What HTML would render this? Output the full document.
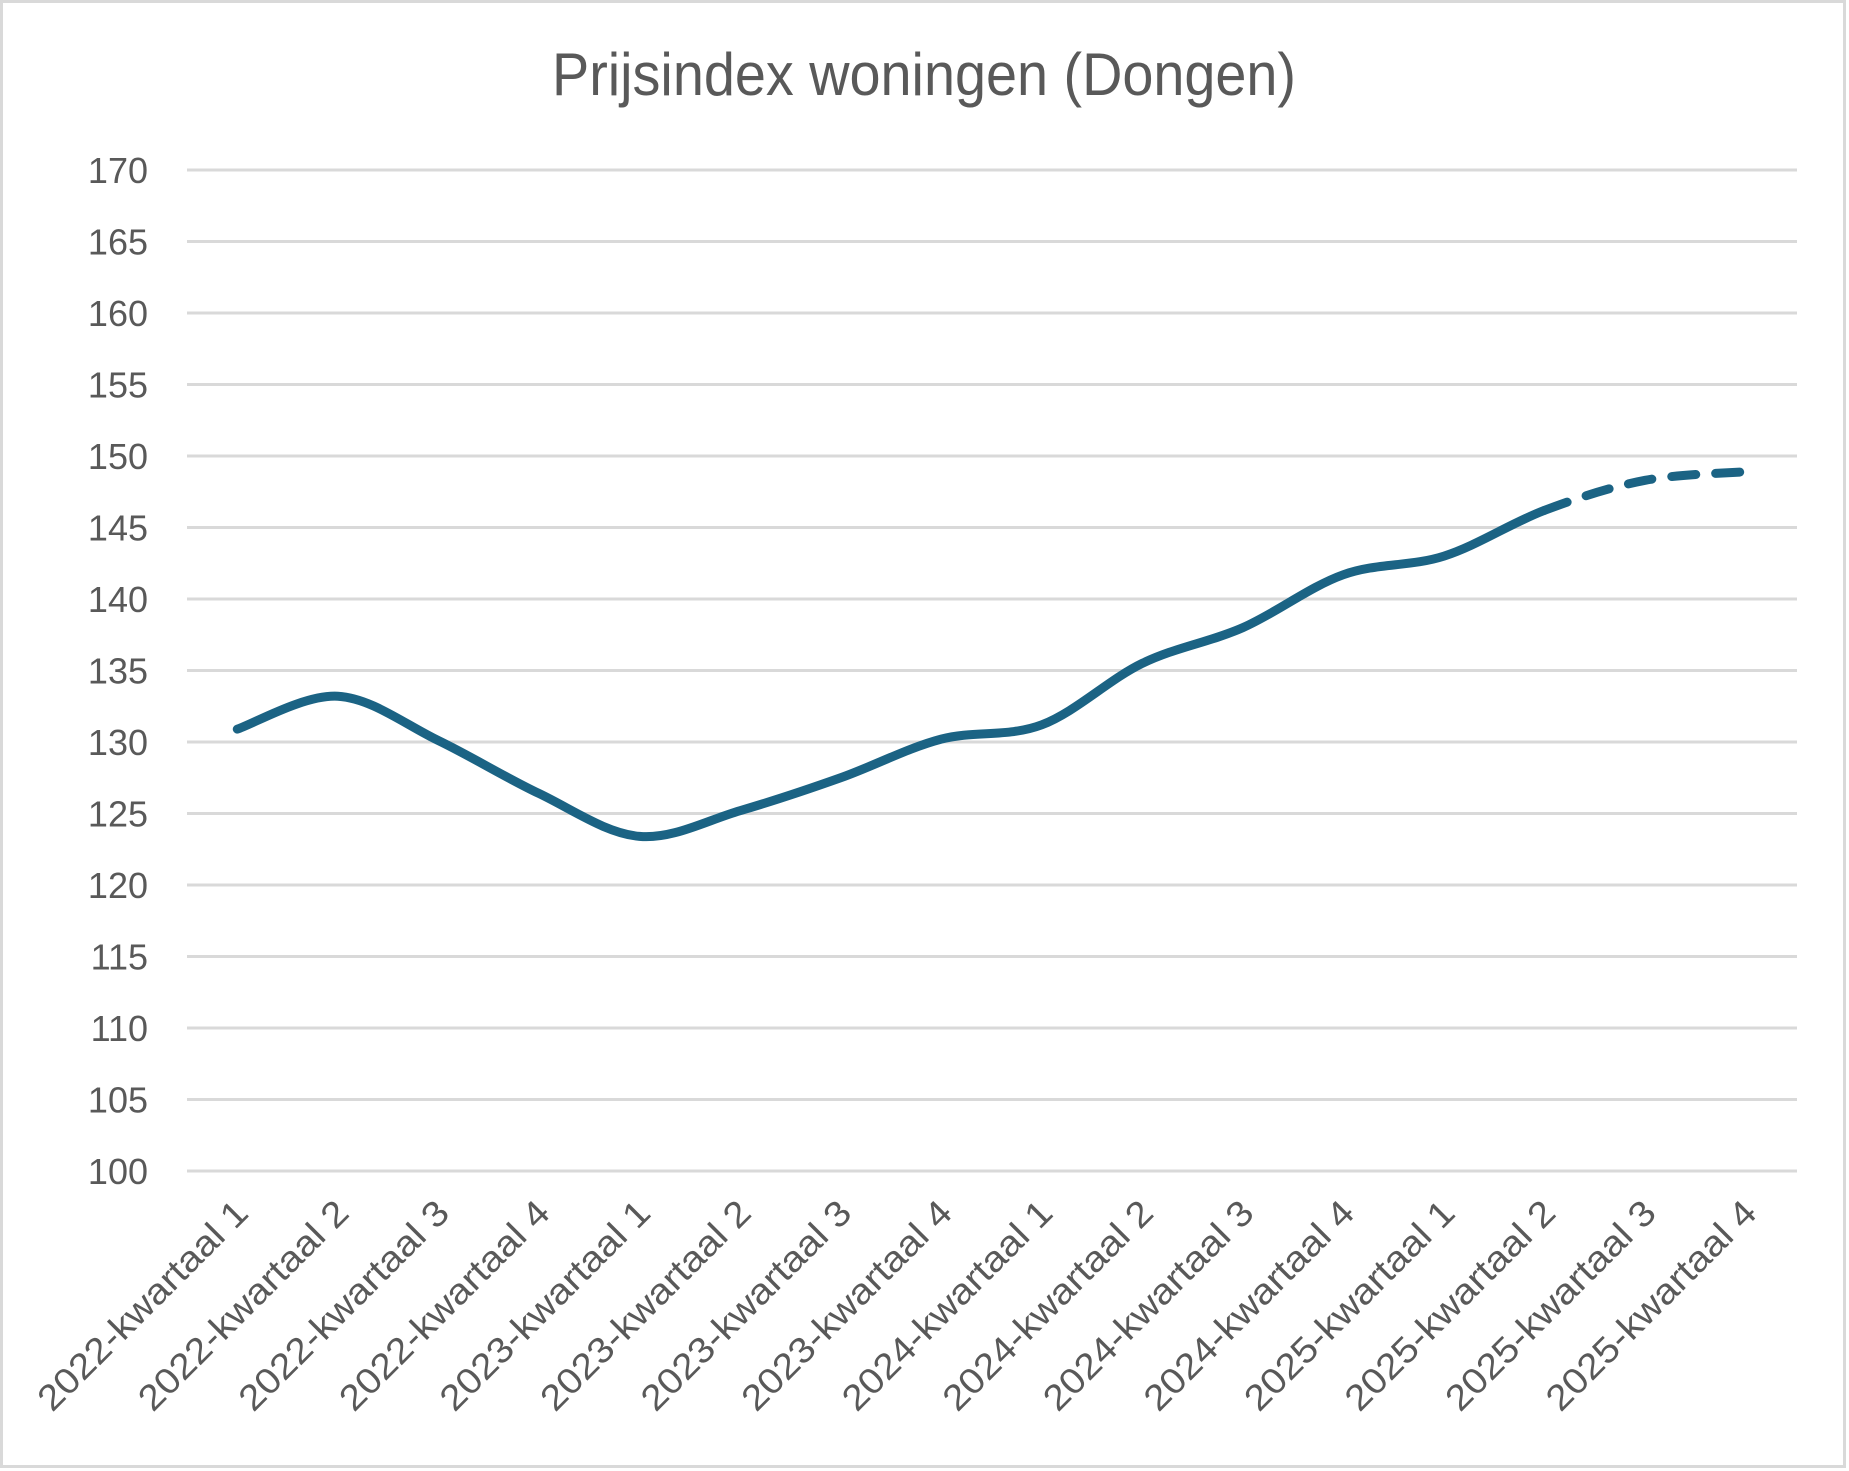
<!DOCTYPE html>
<html><head><meta charset="utf-8"><style>
html,body{margin:0;padding:0;background:#fff}
svg{display:block}
text{font-family:"Liberation Sans",sans-serif;fill:#595959}
</style></head><body>
<svg id="s" width="1849" height="1471" viewBox="0 0 1849 1471" xmlns="http://www.w3.org/2000/svg">
<rect x="0" y="0" width="1849" height="1471" fill="#fff"/>
<rect x="1.5" y="1.5" width="1843" height="1465" fill="none" stroke="#d9d9d9" stroke-width="3"/>
<text x="924" y="95" text-anchor="middle" font-size="60" textLength="744" lengthAdjust="spacingAndGlyphs" style="font-family:'Liberation Sans Narrow','Liberation Sans',sans-serif">Prijsindex woningen (Dongen)</text>
<g id="grid" stroke="#d9d9d9" stroke-width="3"></g>
<g id="ylab" font-size="36" text-anchor="end"></g>
<g id="xlab" font-size="36" text-anchor="end"></g>
<path id="solid" fill="none" stroke="#1b6384" stroke-width="9" stroke-linecap="round" stroke-linejoin="round"/>
<path id="dash" fill="none" stroke="#1b6384" stroke-width="9" stroke-linecap="round" stroke-dasharray="24 20"/>
</svg>
<script>
var ns="http://www.w3.org/2000/svg";
var grid=document.getElementById('grid'),yl=document.getElementById('ylab'),xl=document.getElementById('xlab');
for(var k=0;k<=14;k++){var y=1171-71.5*k;
var l=document.createElementNS(ns,'line');l.setAttribute('x1',187);l.setAttribute('x2',1797);l.setAttribute('y1',y);l.setAttribute('y2',y);grid.appendChild(l);
var t=document.createElementNS(ns,'text');t.setAttribute('x',148);t.setAttribute('y',y+13);t.textContent=100+5*k;yl.appendChild(t);}
var labs=[];for(var yr=2022;yr<=2025;yr++)for(var q=1;q<=4;q++)labs.push(yr+'-kwartaal '+q);
var vals=[130.9,133.2,130.1,126.4,123.4,125.2,127.5,130.2,131.2,135.5,138.0,141.7,143.0,146.2,148.3,148.9];
var P=[];
for(var i=0;i<16;i++){var x=187+100.56*(i+0.5);P.push([x,1171-(vals[i]-100)*14.3]);
var t=document.createElementNS(ns,'text');var ax=x+13,ay=1215;
t.setAttribute('x',ax);t.setAttribute('y',ay);t.setAttribute('transform','rotate(-45 '+ax+' '+ay+')');
t.setAttribute('textLength','280');t.setAttribute('lengthAdjust','spacingAndGlyphs');t.textContent=labs[i];xl.appendChild(t);}
function seg(a,b){var d='M'+P[a][0]+','+P[a][1];
for(var i=a;i<b;i++){var p0=P[Math.max(i-1,0)],p1=P[i],p2=P[i+1],p3=P[Math.min(i+2,15)];
var c1=[p1[0]+(p2[0]-p0[0])/6,p1[1]+(p2[1]-p0[1])/6],c2=[p2[0]-(p3[0]-p1[0])/6,p2[1]-(p3[1]-p1[1])/6];
d+=' C'+c1[0]+','+c1[1]+' '+c2[0]+','+c2[1]+' '+p2[0]+','+p2[1];}return d;}
document.getElementById('solid').setAttribute('d',seg(0,13));
document.getElementById('dash').setAttribute('d',seg(13,15));
</script>
</body></html>
